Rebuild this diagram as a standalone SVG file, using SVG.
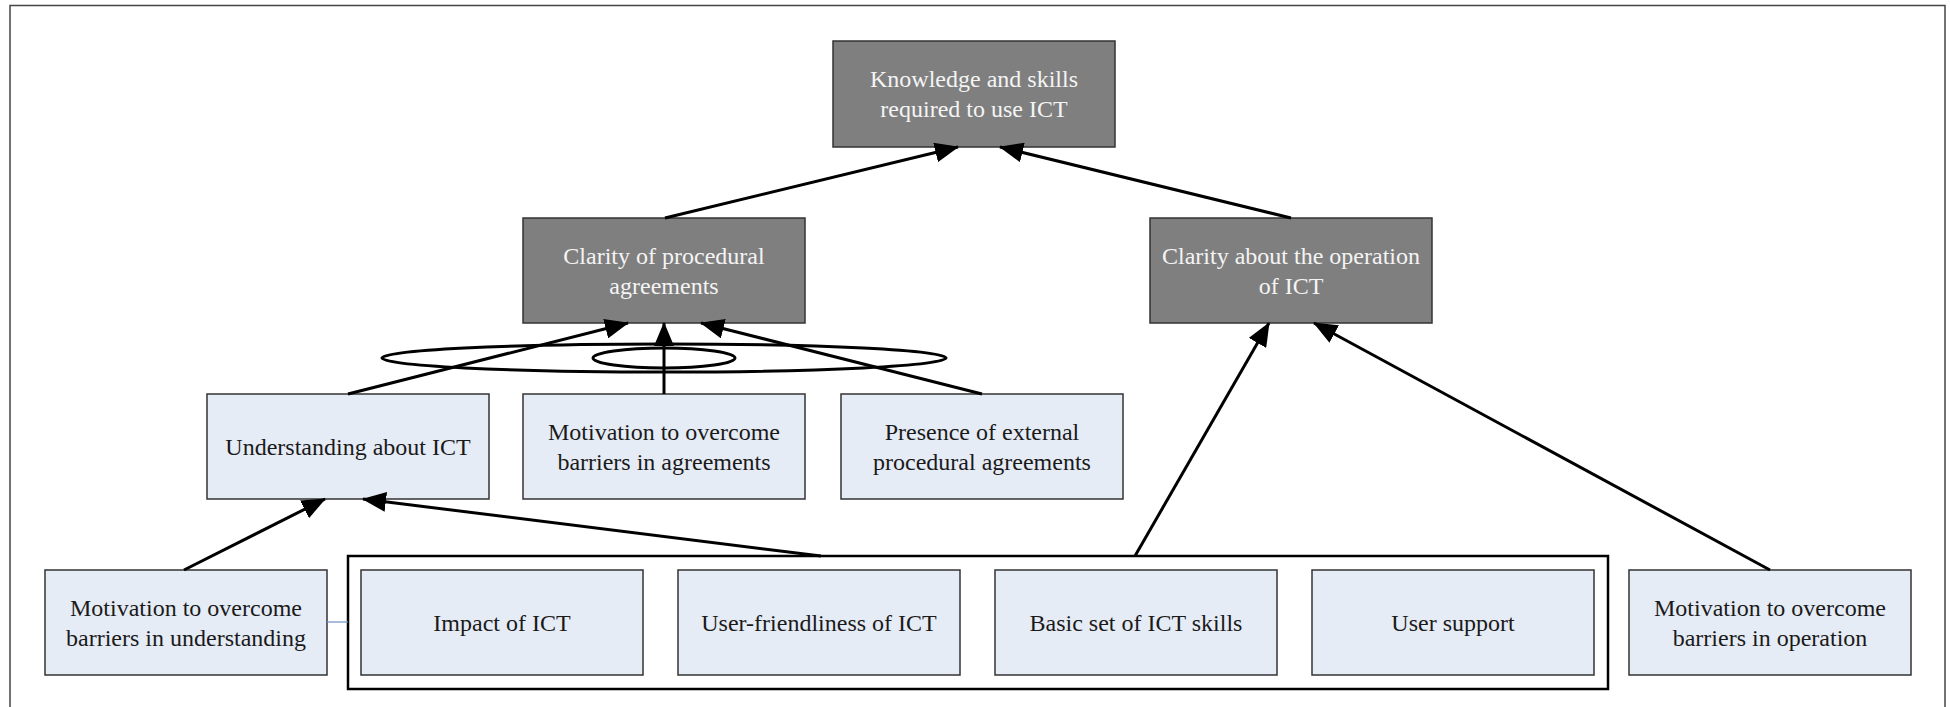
<svg xmlns="http://www.w3.org/2000/svg" width="1950" height="707" viewBox="0 0 1950 707">
  <defs>
    <marker id="arrow" viewBox="0 0 24 20" refX="23" refY="10" markerWidth="24" markerHeight="20" markerUnits="userSpaceOnUse" orient="auto">
      <path d="M0,0 L24,10 L0,20 z" fill="#000"/>
    </marker>
    <style>
      .frame { fill: none; stroke: #444; stroke-width: 1.5; }
      .dark rect { fill: #7f7f7f; stroke: #333; stroke-width: 1.5; }
      .light rect { fill: #e6ecf6; stroke: #333; stroke-width: 1.5; }
      .dark text { fill: #f4f4f4; }
      text { font-family: "Liberation Serif", "Times New Roman", serif; font-size: 24px; text-anchor: middle; fill: #1a1a1a; }
      .edge { fill: none; stroke: #000; stroke-width: 3; marker-end: url(#arrow); }
      .loop { fill: none; stroke: #000; stroke-width: 3; }
      .group-box { fill: none; stroke: #000; stroke-width: 2.5; }
      .link { stroke: #6d8fc7; stroke-width: 1.2; }
    </style>
  </defs>

  <rect class="frame" x="10" y="5.5" width="1935" height="720"/>

  <!-- top level -->
  <g id="knowledge" class="dark">
    <rect x="833" y="41" width="282" height="106"/>
    <text x="974" y="87">Knowledge and skills</text>
    <text x="974" y="117">required to use ICT</text>
  </g>

  <!-- second level -->
  <g id="clarity-procedural" class="dark">
    <rect x="523" y="218" width="282" height="105"/>
    <text x="664" y="264">Clarity of procedural</text>
    <text x="664" y="294">agreements</text>
  </g>
  <g id="clarity-operation" class="dark">
    <rect x="1150" y="218" width="282" height="105"/>
    <text x="1291" y="264">Clarity about the operation</text>
    <text x="1291" y="294">of ICT</text>
  </g>

  <!-- third level -->
  <g id="understanding" class="light">
    <rect x="207" y="394" width="282" height="105"/>
    <text x="348" y="455">Understanding about ICT</text>
  </g>
  <g id="motivation-agreements" class="light">
    <rect x="523" y="394" width="282" height="105"/>
    <text x="664" y="440">Motivation to overcome</text>
    <text x="664" y="470">barriers in agreements</text>
  </g>
  <g id="external-agreements" class="light">
    <rect x="841" y="394" width="282" height="105"/>
    <text x="982" y="440">Presence of external</text>
    <text x="982" y="470">procedural agreements</text>
  </g>

  <!-- bottom level -->
  <g id="motivation-understanding" class="light">
    <rect x="45" y="570" width="282" height="105"/>
    <text x="186" y="616">Motivation to overcome</text>
    <text x="186" y="646">barriers in understanding</text>
  </g>
  <g id="ict-factors">
    <rect class="group-box" x="348" y="556" width="1260" height="133"/>
    <g id="impact" class="light">
      <rect x="361" y="570" width="282" height="105"/>
      <text x="502" y="631">Impact of ICT</text>
    </g>
    <g id="user-friendliness" class="light">
      <rect x="678" y="570" width="282" height="105"/>
      <text x="819" y="631">User-friendliness of ICT</text>
    </g>
    <g id="basic-skills" class="light">
      <rect x="995" y="570" width="282" height="105"/>
      <text x="1136" y="631">Basic set of ICT skills</text>
    </g>
    <g id="user-support" class="light">
      <rect x="1312" y="570" width="282" height="105"/>
      <text x="1453" y="631">User support</text>
    </g>
  </g>
  <g id="motivation-operation" class="light">
    <rect x="1629" y="570" width="282" height="105"/>
    <text x="1770" y="616">Motivation to overcome</text>
    <text x="1770" y="646">barriers in operation</text>
  </g>

  <!-- connectors -->
  <g id="connectors">
    <line class="link" x1="327" y1="622" x2="348" y2="622"/>
    <ellipse class="loop" cx="664" cy="358" rx="282" ry="14"/>
    <ellipse class="loop" cx="664" cy="358" rx="71" ry="10"/>
    <line class="edge" x1="665" y1="218" x2="958" y2="147"/>
    <line class="edge" x1="1291" y1="218" x2="1000" y2="147"/>
    <line class="edge" x1="348" y1="394" x2="628" y2="323"/>
    <line class="edge" x1="664" y1="394" x2="664" y2="323"/>
    <line class="edge" x1="982" y1="394" x2="701" y2="323"/>
    <line class="edge" x1="184" y1="570" x2="325" y2="499"/>
    <line class="edge" x1="821" y1="556" x2="363" y2="499"/>
    <line class="edge" x1="1135" y1="556" x2="1269" y2="323"/>
    <line class="edge" x1="1770" y1="570" x2="1314" y2="323"/>
  </g>
</svg>
